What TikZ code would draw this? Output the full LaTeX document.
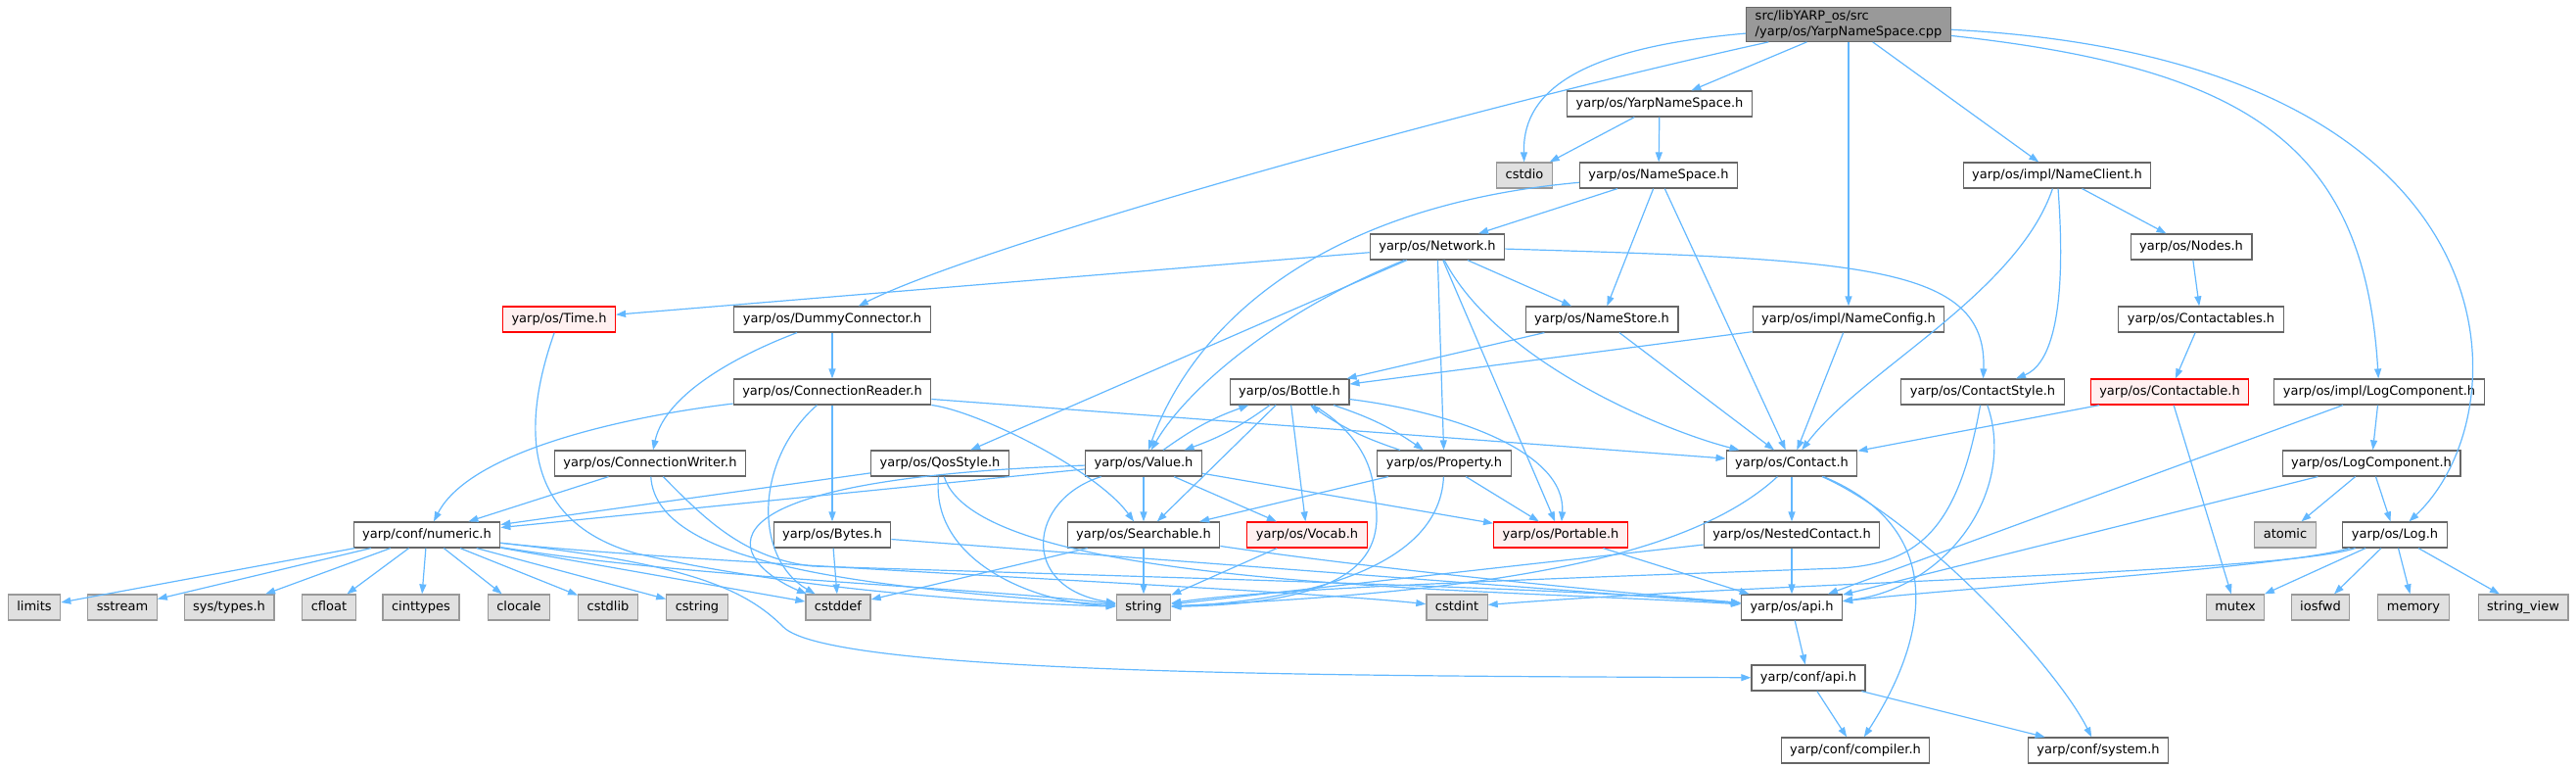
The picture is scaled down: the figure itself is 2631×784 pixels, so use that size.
\documentclass[tikz,border=0pt]{standalone}
\usepackage{fontspec}
\setmainfont{DejaVu Sans}
\usetikzlibrary{arrows.meta}

\definecolor{edgeblue}{HTML}{63B8FF}
\definecolor{boxline}{HTML}{666666}
\definecolor{sysline}{HTML}{999999}
\definecolor{sysfill}{HTML}{E0E0E0}
\definecolor{truncfill}{HTML}{FFF0F0}
\definecolor{rootfill}{HTML}{999999}

\tikzset{
  hdr/.style={draw=boxline, fill=white, line width=1.2pt, minimum height=26pt,
    inner xsep=9pt, inner ysep=0pt, font=\fontsize{13}{15}\selectfont,
    text height=1.75ex, text depth=.5ex},
  sys/.style={hdr, draw=sysline, fill=sysfill},
  trunc/.style={hdr, draw=red, fill=truncfill},
  srcfile/.style={draw=boxline, fill=rootfill, line width=1.2pt, align=left,
    inner xsep=9pt, inner ysep=3pt, font=\fontsize{13}{16}\selectfont},
  dep/.style={draw=edgeblue, line width=1.2pt, -{Triangle[length=10pt, width=7pt]}}
}

\begin{document}
\begin{tikzpicture}[x=1pt, y=-1pt]

\useasboundingbox (0,0) rectangle (2631,784);

% the file itself
\node[srcfile] (root) at (1888,25) {src/libYARP\_os/src\\/yarp/os/YarpNameSpace.cpp};

% headers, row by row
\node[hdr] (yns) at (1695,106) {yarp/os/YarpNameSpace.h};

\node[sys] (cstdio) at (1557,179) {cstdio};
\node[hdr] (ns) at (1694,179) {yarp/os/NameSpace.h};
\node[hdr] (ncl) at (2101,179) {yarp/os/impl/NameClient.h};

\node[hdr] (net) at (1468,252) {yarp/os/Network.h};
\node[hdr] (nodes) at (2238,252) {yarp/os/Nodes.h};

\node[trunc] (time) at (571,326) {yarp/os/Time.h};
\node[hdr] (dc) at (850,326) {yarp/os/DummyConnector.h};
\node[hdr] (nst) at (1636,326) {yarp/os/NameStore.h};
\node[hdr] (ncf) at (1888,326) {yarp/os/impl/NameConfig.h};
\node[hdr] (cts) at (2248,326) {yarp/os/Contactables.h};

\node[hdr] (cr) at (850,400) {yarp/os/ConnectionReader.h};
\node[hdr] (bot) at (1317,400) {yarp/os/Bottle.h};
\node[hdr] (cs) at (2025,400) {yarp/os/ContactStyle.h};
\node[trunc] (ctb) at (2216,400) {yarp/os/Contactable.h};
\node[hdr] (ilc) at (2430,400) {yarp/os/impl/LogComponent.h};

\node[hdr] (cw) at (664,473) {yarp/os/ConnectionWriter.h};
\node[hdr] (qos) at (960,473) {yarp/os/QosStyle.h};
\node[hdr] (val) at (1168,473) {yarp/os/Value.h};
\node[hdr] (prop) at (1475,473) {yarp/os/Property.h};
\node[hdr] (con) at (1830,473) {yarp/os/Contact.h};
\node[hdr] (lc) at (2422,473) {yarp/os/LogComponent.h};

\node[hdr] (num) at (436,546) {yarp/conf/numeric.h};
\node[hdr] (bytes) at (850,546) {yarp/os/Bytes.h};
\node[hdr] (srch) at (1168,546) {yarp/os/Searchable.h};
\node[trunc] (vocab) at (1335,546) {yarp/os/Vocab.h};
\node[trunc] (port) at (1594,546) {yarp/os/Portable.h};
\node[hdr] (nc) at (1830,546) {yarp/os/NestedContact.h};
\node[sys] (atomic) at (2334,546) {atomic};
\node[hdr] (log) at (2446,546) {yarp/os/Log.h};

% system headers on the bottom row
\foreach \n/\x/\t in {limits/35/limits, sstream/125/sstream, systypes/234/{sys/types.h},
    cfloat/336/cfloat, cinttypes/430/cinttypes, clocale/530/clocale,
    cstdlib/621/cstdlib, cstring/712/cstring, cstddef/856/cstddef,
    string/1168/string, cstdint/1488/cstdint, mutex/2283/mutex,
    iosfwd/2370/iosfwd, memory/2465/memory, strview/2577/string\_view}
  \node[sys] (\n) at (\x,620) {\t};
\node[hdr] (osapi) at (1830,620) {yarp/os/api.h};

\node[hdr] (confapi) at (1847,692) {yarp/conf/api.h};
\node[hdr] (compiler) at (1895,766) {yarp/conf/compiler.h};
\node[hdr] (system) at (2143,766) {yarp/conf/system.h};

% includes of the source file
\foreach \t in {yns,ncf,ncl}
  \draw[dep] (root) -- (\t);
\draw[dep] (root) .. controls (1500,110) and (1000,250) .. (dc);
\draw[dep] (root) .. controls (1600,50) and (1555,100) .. (cstdio);
\draw[dep] (root) .. controls (2300,70) and (2415,150) .. (ilc);
\draw[dep] (root) .. controls (2580,60) and (2580,420) .. (log);

% YarpNameSpace.h and NameSpace.h
\draw[dep] (yns) -- (cstdio);
\draw[dep] (yns) -- (ns);
\foreach \t in {net,nst,con}
  \draw[dep] (ns) -- (\t);
\draw[dep] (ns) .. controls (1350,210) and (1220,330) .. (val);

% Network.h
\foreach \t in {time,qos,nst,prop,port}
  \draw[dep] (net) -- (\t);
\draw[dep] (net) .. controls (1300,320) and (1210,400) .. (val);
\draw[dep] (net) .. controls (1530,370) and (1700,440) .. (con);
\draw[dep] (net) .. controls (1900,265) and (2030,270) .. (cs);

% Time.h
\draw[dep] (time) .. controls (520,470) and (560,540) .. (650,565)
  .. controls (800,600) and (1000,615) .. (string);

% DummyConnector.h, ConnectionReader.h, ConnectionWriter.h
\draw[dep] (dc) -- (cr);
\draw[dep] (dc) .. controls (760,360) and (680,400) .. (cw);
\draw[dep] (cr) .. controls (640,425) and (480,460) .. (num);
\draw[dep] (cr) -- (bytes);
\draw[dep] (cr) .. controls (770,470) and (770,570) .. (cstddef);
\draw[dep] (cr) .. controls (1000,420) and (1120,480) .. (srch);
\draw[dep] (cr) -- (con);
\draw[dep] (cw) -- (num);
\draw[dep] (cw) .. controls (670,580) and (900,600) .. (string);
\draw[dep] (cw) .. controls (720,530) and (760,570) .. (830,578)
  .. controls (1200,590) and (1600,600) .. (osapi);

% QosStyle.h
\draw[dep] (qos) -- (num);
\draw[dep] (qos) .. controls (950,570) and (1050,615) .. (string);
\draw[dep] (qos) .. controls (1000,600) and (1500,600) .. (osapi);

% Value.h
\draw[dep] (val) -- (num);
\draw[dep] (val) .. controls (680,490) and (750,575) .. (cstddef);
\draw[dep] (val) to[bend left=8] (bot);
\foreach \t in {srch,vocab,port}
  \draw[dep] (val) -- (\t);
\draw[dep] (val) .. controls (1050,510) and (1040,600) .. (string);

% Bottle.h
\draw[dep] (bot) to[bend left=8] (val);
\draw[dep] (bot) to[bend left=8] (prop);
\draw[dep] (bot) -- (srch);
\draw[dep] (bot) -- (vocab);
\draw[dep] (bot) .. controls (1370,430) and (1400,460) .. (1403,500)
  .. controls (1415,560) and (1400,615) .. (string);
\draw[dep] (bot) .. controls (1480,420) and (1600,460) .. (port);

% Property.h
\draw[dep] (prop) to[bend left=8] (bot);
\draw[dep] (prop) -- (srch);
\draw[dep] (prop) -- (port);
\draw[dep] (prop) .. controls (1470,590) and (1300,615) .. (string);

% NameStore.h, NameConfig.h, NameClient.h
\foreach \s in {nst,ncf} {
  \draw[dep] (\s) -- (bot);
  \draw[dep] (\s) -- (con);
}
\draw[dep] (ncl) -- (nodes);
\draw[dep] (ncl) .. controls (2060,300) and (1900,380) .. (con);
\draw[dep] (ncl) .. controls (2110,300) and (2100,370) .. (cs);
\draw[dep] (nodes) -- (cts);
\draw[dep] (cts) -- (ctb);
\draw[dep] (ctb) -- (con);
\draw[dep] (ctb) -- (mutex);

% ContactStyle.h
\draw[dep] (cs) .. controls (2000,540) and (1960,575) .. (1880,580)
  .. controls (1600,590) and (1300,600) .. (string);
\draw[dep] (cs) .. controls (2060,500) and (1990,600) .. (osapi);

% Contact.h and NestedContact.h
\draw[dep] (con) -- (nc);
\draw[dep] (con) .. controls (1720,575) and (1500,605) .. (string);
\draw[dep] (con) .. controls (1990,540) and (1970,650) .. (compiler);
\draw[dep] (con) .. controls (1960,530) and (2100,680) .. (system);
\draw[dep] (nc) -- (osapi);
\draw[dep] (nc) -- (string);

% Searchable.h, Vocab.h, Portable.h, Bytes.h
\draw[dep] (srch) -- (cstddef);
\draw[dep] (srch) -- (string);
\draw[dep] (srch) .. controls (1400,580) and (1600,600) .. (osapi);
\draw[dep] (vocab) -- (string);
\draw[dep] (port) -- (osapi);
\draw[dep] (bytes) -- (cstddef);
\draw[dep] (bytes) -- (osapi);

% numeric.h
\foreach \t in {limits,sstream,systypes,cfloat,cinttypes,clocale,cstdlib,cstring,cstddef}
  \draw[dep] (num) -- (\t);
\draw[dep] (num) .. controls (700,590) and (1000,600) .. (string);
\draw[dep] (num) .. controls (700,575) and (1300,600) .. (cstdint);
\draw[dep] (num) .. controls (700,575) and (760,600) .. (800,640)
  .. controls (850,690) and (1400,690) .. (confapi);

% logging
\draw[dep] (ilc) -- (lc);
\draw[dep] (ilc) -- (osapi);
\foreach \t in {atomic,log,osapi}
  \draw[dep] (lc) -- (\t);
\foreach \t in {mutex,iosfwd,memory,strview}
  \draw[dep] (log) -- (\t);
\draw[dep] (log) .. controls (2330,580) and (2000,600) .. (osapi);
\draw[dep] (log) .. controls (2330,585) and (1800,595) .. (cstdint);

% api headers
\draw[dep] (osapi) -- (confapi);
\draw[dep] (confapi) -- (compiler);
\draw[dep] (confapi) -- (system);

\end{tikzpicture}
\end{document}
